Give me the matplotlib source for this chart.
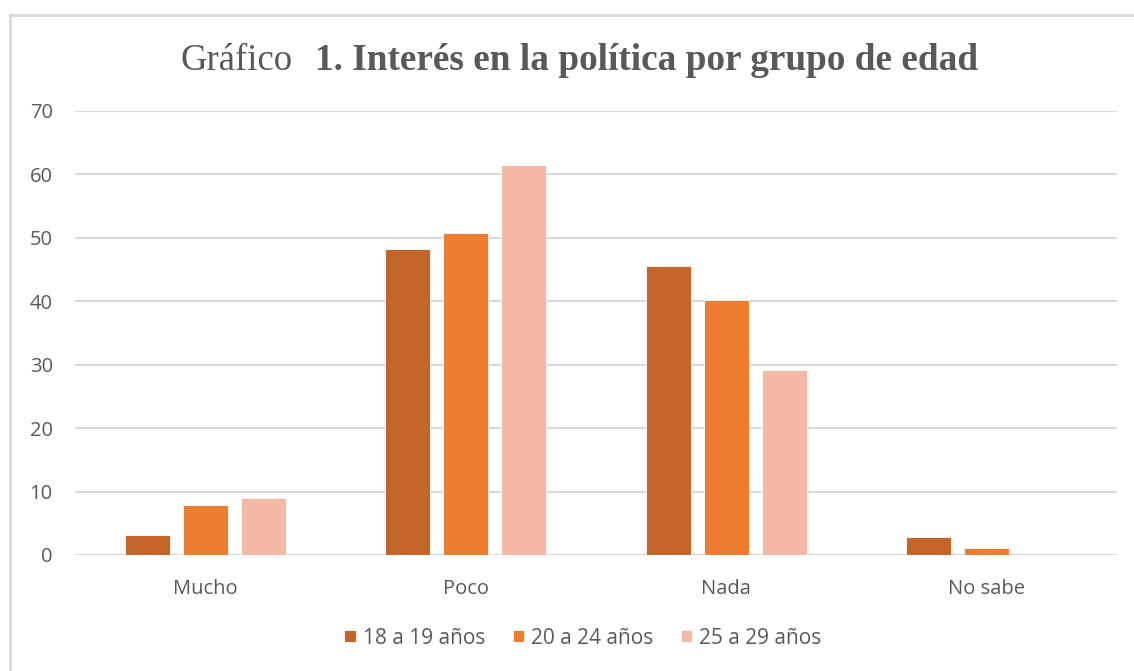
import numpy as np
import matplotlib.pyplot as plt
from matplotlib.patches import Rectangle

categories = ["Mucho", "Poco", "Nada", "No sabe"]
series_names = ["18 a 19 años", "20 a 24 años", "25 a 29 años"]
v_18_19 = [3.2, 48.2, 45.6, 2.8]
v_20_24 = [7.9, 50.8, 40.2, 1.1]
v_25_29 = [9.0, 61.5, 29.2, 0.0]
colors = ["#C4652A", "#ED7D31", "#F4B8A5"]
yticks = [0, 10, 20, 30, 40, 50, 60, 70]

W, H = 1134, 671
fig = plt.figure(figsize=(W / 100, H / 100), dpi=100)
ax = fig.add_axes([75 / W, 1 - 555 / H, (1117 - 75) / W, (555 - 111) / H])

# light frame around the chart, open at right and bottom
fig.patches.append(Rectangle((10 / W, -0.1), 1.2, 1 - 15 / H + 0.1,
                             transform=fig.transFigure, fill=False,
                             ec="#D9D9D9", lw=2.0, zorder=0))

x = np.arange(len(categories))
bw, step = 0.173, 0.223
for i, (vals, name) in enumerate(zip([v_18_19, v_20_24, v_25_29], series_names)):
    ax.bar(x + (i - 1) * step, vals, bw, color=colors[i], label=name,
           edgecolor="#FFFFFF", linewidth=0.6, zorder=3)

ax.set_xlim(-0.5, len(categories) - 0.5)
ax.set_ylim(0, 70)
ax.set_yticks(yticks)
ax.grid(axis="y", color="#D9D9D9", lw=1.5, zorder=0)
for s in ax.spines.values():
    s.set_visible(False)
ax.tick_params(length=0, colors="#595959", labelsize=14.5)
ax.tick_params(axis="y", pad=16)
ax.tick_params(axis="x", pad=17)
ax.set_xticks(x)
ax.set_xticklabels(categories)
for lab in ax.get_xticklabels() + ax.get_yticklabels():
    lab.set_fontfamily("Open Sans")

fig.text(180 / W, 1 - 61 / H, "Gráfico", family="Liberation Serif",
         fontsize=26.5, color="#595959", va="center", ha="left")
fig.text(315 / W, 1 - 61 / H, "1. Interés en la política por grupo de edad",
         family="Liberation Serif", fontweight="bold",
         fontsize=26.8, color="#595959", va="center", ha="left")

leg = fig.legend(loc="center", bbox_to_anchor=(583 / W, 1 - 638 / H), ncol=3,
                 frameon=False, handlelength=0.55, handleheight=0.55,
                 handletextpad=0.35, columnspacing=1.3,
                 prop={"family": "Open Sans", "size": 15})
for t in leg.get_texts():
    t.set_color("#595959")

fig.savefig("out.png", dpi=100)
